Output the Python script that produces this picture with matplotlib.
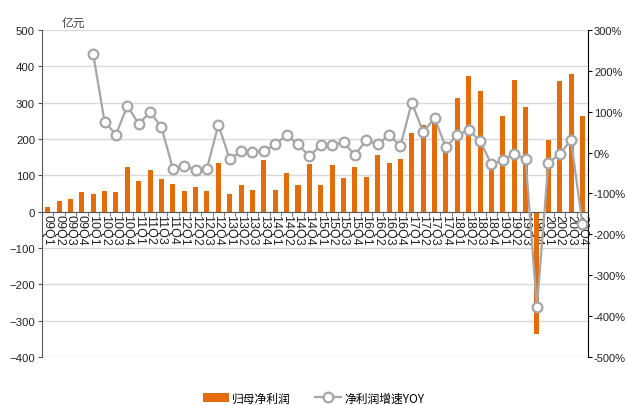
import matplotlib
matplotlib.use("Agg")
import matplotlib.pyplot as plt
from matplotlib.ticker import FuncFormatter, MultipleLocator

plt.rcParams['font.family'] = ['Liberation Sans', 'Noto Sans CJK SC', 'DejaVu Sans']

quarters = [f"{y:02d}Q{q}" for y in range(9, 21) for q in range(1, 5)]

profit = [13, 30, 36, 55, 48, 56, 54, 122, 84, 115, 90, 77,
          56, 68, 57, 133, 49, 72, 60, 141, 60, 107, 73, 130,
          72, 129, 93, 124, 96, 157, 135, 146, 215, 239, 247, 173,
          312, 373, 331, 123, 262, 363, 287, -336, 197, 358, 378, 262]

yoy = [None, None, None, None, 241, 75, 44, 114, 70, 99, 62, -39,
       -32, -42, -39, 68, -16, 3, 2, 3, 20, 43, 20, -9,
       18, 19, 25, -6, 30, 20, 43, 16, 122, 50, 84, 13,
       43, 55, 29, -29, -18, -4, -15, -378, -26, -3, 30, -175]

bar_color = '#E46C0A'
line_color = '#A6A6A6'

fig = plt.figure(figsize=(6.27, 4.06), dpi=100)
ax = fig.add_axes([0.067, 0.118, 0.871, 0.806])
ax2 = ax.twinx()

x = list(range(len(quarters)))
ax.set_zorder(1)
ax.patch.set_visible(False)
ax2.set_zorder(0)

ax.bar(x, profit, width=0.44, color=bar_color, zorder=2, label='归母净利润')

xs = [i for i, v in zip(x, yoy) if v is not None]
ys = [v for v in yoy if v is not None]

ax.set_ylim(-400, 500)
ax.set_xlim(-0.5, len(quarters) - 0.5)
ax.yaxis.set_major_locator(MultipleLocator(100))
ax.grid(axis='y', color='#D9D9D9', linewidth=1.0, zorder=0)
ax.set_axisbelow(True)

ax2.set_ylim(-500, 300)
ax2.yaxis.set_major_locator(MultipleLocator(100))
ax2.yaxis.set_major_formatter(FuncFormatter(lambda v, p: f"{int(v)}%"))

line, = ax.plot(xs, ys, color=line_color, linewidth=1.6, marker='o', markersize=7,
                markerfacecolor='white', markeredgecolor=line_color, markeredgewidth=1.6,
                transform=ax2.transData, zorder=3, label='净利润增速YOY')

ax.spines['bottom'].set_position(('data', 0))
ax.spines['bottom'].set_color('#595959')
ax.spines['left'].set_color('#595959')
ax.spines['top'].set_visible(False)
ax.spines['right'].set_visible(False)
ax2.spines['top'].set_visible(False)
ax2.spines['left'].set_visible(False)
ax2.spines['bottom'].set_visible(False)
ax2.spines['right'].set_color('#000000')

ax.set_xticks(x)
ax.set_xticklabels(quarters, rotation=270, fontsize=9, color='#222222')
ax.tick_params(axis='x', which='major', length=0, pad=2)
ax.set_xticks([i + 0.5 for i in x[:-1]], minor=True)
ax.tick_params(axis='x', which='minor', length=3, direction='out', color='#595959')
for lab in ax.get_xticklabels():
    lab.set_zorder(5)
    lab.set_verticalalignment('top')

ax.tick_params(axis='y', labelsize=8.2, length=3, pad=2, color='#595959', labelcolor='#222222')
ax2.tick_params(axis='y', labelsize=8, length=3, pad=1.2, color='#000000', labelcolor='#222222')

fig.text(0.099, 0.935, '亿元', fontsize=8.5, color='#444444', family=['Noto Sans CJK SC', 'DejaVu Sans'])

leg = fig.legend(handles=[ax.containers[0], line], labels=['归母净利润', '净利润增速YOY'],
                 loc='lower center', bbox_to_anchor=(0.5, -0.025), ncol=2, frameon=False,
                 handlelength=2.2, columnspacing=2, handletextpad=0.3,
                 prop={'family': ['Noto Sans CJK SC', 'DejaVu Sans'], 'size': 8.5})

fig.savefig('out.png', dpi=100)
